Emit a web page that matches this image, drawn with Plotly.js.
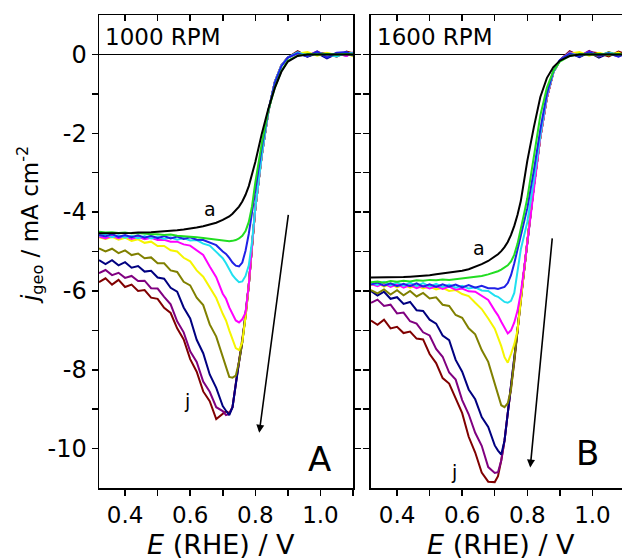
<!DOCTYPE html>
<html>
<head>
<meta charset="utf-8">
<script src="https://cdn.plot.ly/plotly-3.0.1.min.js"></script>
<style>
html, body { margin:0; padding:0; overflow:hidden; background:#fff; }
#chart { width:632px; height:560px; }
</style>
</head>
<body>
<div id="chart"></div>
<script>
// Potential grid (V vs RHE), shared by all curves
const E_grid = [0.32,0.34,0.36,0.38,0.40,0.42,0.44,0.46,0.48,0.50,0.52,0.54,0.56,0.58,0.60,0.62,0.64,0.66,0.68,0.70,
  0.71,0.72,0.73,0.74,0.75,0.76,0.77,0.78,0.79,0.80,
  0.82,0.84,0.86,0.88,0.90,
  0.93,0.96,0.99,1.02,1.05,1.08,1.10];

const curveLabels = ['a','b','c','d','e','f','g','h','i','j'];
const curveColors = ['#000000','#22dd22','#2020e6','#20e0f0','#ff00ff','#f5f500','#808000','#000080','#800080','#800000'];

// Panel A : 1000 RPM  (j_geo / mA cm-2)
const jA_a = [-4.54,-4.54,-4.54,-4.53,-4.53,-4.53,-4.52,-4.52,-4.51,-4.50,-4.49,-4.48,-4.46,-4.44,-4.42,-4.39,-4.36,-4.32,-4.27,-4.20,
  -4.16,-4.11,-4.04,-3.96,-3.86,-3.73,-3.56,-3.34,-3.06,-2.73, -2.01,-1.38,-0.85,-0.44,-0.18, -0.04,0,0,0,0,0,0];
const jA_b = [-4.50,-4.52,-4.51,-4.53,-4.52,-4.54,-4.53,-4.55,-4.56,-4.56,-4.58,-4.57,-4.60,-4.61,-4.62,-4.64,-4.66,-4.68,-4.71,-4.73,
  -4.74,-4.74,-4.73,-4.71,-4.67,-4.60,-4.48,-4.25,-3.85,-3.25, -2.25,-1.42,-0.84,-0.42,-0.16, -0.03,0.01,0.00,0.01,0.00,0.01,0.00];
const jA_c = [-4.58,-4.62,-4.56,-4.63,-4.58,-4.64,-4.59,-4.65,-4.60,-4.66,-4.61,-4.67,-4.62,-4.68,-4.64,-4.70,-4.71,-4.78,-4.84,-5.00,
  -5.06,-5.16,-5.28,-5.36,-5.38,-5.28,-4.98,-4.55,-3.98,-3.45, -2.35,-1.42,-0.72,-0.30,-0.08, 0.03,-0.05,0.07,-0.08,0.04,0.06,-0.03];
const jA_d = [-4.60,-4.57,-4.64,-4.59,-4.65,-4.60,-4.66,-4.61,-4.67,-4.62,-4.68,-4.64,-4.70,-4.66,-4.72,-4.71,-4.80,-4.85,-5.01,-5.17,
  -5.30,-5.45,-5.60,-5.70,-5.78,-5.76,-5.62,-5.35,-4.75,-3.90, -2.55,-1.45,-0.70,-0.28,-0.08, 0.05,-0.03,0.04,0.00,-0.05,0.04,0.02];
const jA_e = [-4.62,-4.67,-4.60,-4.66,-4.61,-4.68,-4.63,-4.69,-4.65,-4.71,-4.70,-4.75,-4.75,-4.82,-4.85,-4.96,-5.09,-5.38,-5.65,-6.07,
  -6.20,-6.42,-6.60,-6.75,-6.80,-6.72,-6.55,-5.85,-4.85,-3.90, -2.55,-1.45,-0.70,-0.28,-0.08, 0.03,-0.02,0.05,-0.03,0.02,-0.04,0.03];
const jA_f = [-4.64,-4.68,-4.63,-4.70,-4.65,-4.73,-4.69,-4.78,-4.75,-4.86,-4.86,-4.97,-5.00,-5.16,-5.25,-5.48,-5.64,-5.91,-6.18,-6.58,
  -6.75,-7.00,-7.25,-7.45,-7.50,-7.30,-6.65,-5.85,-4.85,-3.90, -2.55,-1.45,-0.70,-0.28,-0.08, 0.02,0.06,-0.03,0.04,-0.02,0.03,-0.05];
const jA_g = [-4.92,-5.00,-4.93,-5.04,-4.97,-5.09,-5.05,-5.17,-5.15,-5.30,-5.30,-5.48,-5.52,-5.77,-5.86,-6.17,-6.36,-6.85,-7.16,-7.70,
  -7.95,-8.18,-8.20,-8.15,-7.80,-7.30,-6.65,-5.85,-4.85,-3.90, -2.55,-1.45,-0.70,-0.28,-0.08, 0.04,-0.03,0.05,-0.06,0.03,0.02,-0.02];
const jA_h = [-5.22,-5.32,-5.22,-5.35,-5.27,-5.41,-5.37,-5.51,-5.49,-5.66,-5.69,-5.92,-6.02,-6.42,-6.70,-7.24,-7.58,-8.12,-8.46,-8.92,
  -9.04,-9.15,-8.95,-8.35,-7.80,-7.30,-6.65,-5.85,-4.85,-3.90, -2.55,-1.45,-0.70,-0.28,-0.08, 0.04,-0.06,0.03,-0.10,0.02,-0.03,0.04];
const jA_i = [-5.55,-5.47,-5.60,-5.54,-5.67,-5.62,-5.75,-5.74,-5.93,-5.94,-6.15,-6.34,-6.77,-7.05,-7.53,-7.80,-8.30,-8.56,-8.95,-9.05,
  -9.15,-9.12,-8.95,-8.35,-7.80,-7.30,-6.65,-5.85,-4.85,-3.90, -2.55,-1.45,-0.70,-0.28,-0.08, 0.06,-0.04,0.08,-0.05,0.03,-0.02,0.05];
const jA_j = [-5.78,-5.68,-5.84,-5.72,-5.90,-5.84,-6.00,-5.98,-6.17,-6.20,-6.43,-6.56,-6.95,-7.23,-7.73,-8.05,-8.55,-8.80,-9.25,-9.10,
  -9.05,-9.10,-8.95,-8.35,-7.80,-7.30,-6.65,-5.85,-4.85,-3.90, -2.55,-1.45,-0.70,-0.28,-0.08, 0.08,-0.05,0.04,0.02,-0.06,0.07,0.03];

// Panel B : 1600 RPM
const jB_a = [-5.66,-5.66,-5.66,-5.65,-5.65,-5.65,-5.64,-5.63,-5.62,-5.60,-5.58,-5.56,-5.54,-5.52,-5.49,-5.45,-5.39,-5.32,-5.24,-5.14,
  -5.07,-4.99,-4.89,-4.76,-4.58,-4.35,-4.07,-3.72,-3.20,-2.70, -1.85,-1.08,-0.60,-0.32,-0.16, -0.04,0,0,0,0,0,0];
const jB_b = [-5.78,-5.76,-5.79,-5.75,-5.77,-5.74,-5.76,-5.73,-5.74,-5.72,-5.73,-5.71,-5.72,-5.70,-5.69,-5.67,-5.65,-5.62,-5.58,-5.53,
  -5.50,-5.46,-5.41,-5.35,-5.25,-5.08,-4.80,-4.45,-4.05,-3.65, -2.55,-1.55,-0.85,-0.42,-0.18, -0.04,0.01,0.00,0.01,0.00,0.01,0.00];
const jB_c = [-5.84,-5.79,-5.87,-5.81,-5.88,-5.82,-5.88,-5.81,-5.89,-5.83,-5.90,-5.83,-5.89,-5.84,-5.91,-5.85,-5.92,-5.87,-5.93,-5.93,
  -5.95,-5.93,-5.90,-5.80,-5.60,-5.30,-4.95,-4.60,-4.25,-3.90, -2.95,-1.90,-1.00,-0.42,-0.14, 0.02,-0.05,0.06,-0.04,0.03,-0.06,0.02];
const jB_d = [-5.80,-5.85,-5.77,-5.86,-5.78,-5.87,-5.79,-5.88,-5.80,-5.89,-5.82,-5.90,-5.84,-5.92,-5.87,-5.94,-5.91,-5.99,-6.00,-6.12,
  -6.15,-6.22,-6.28,-6.30,-6.25,-6.05,-5.50,-4.95,-4.60,-4.25, -3.20,-2.05,-1.05,-0.45,-0.15, 0.03,-0.04,0.05,-0.02,0.04,0.00,-0.03];
const jB_e = [-5.82,-5.88,-5.81,-5.90,-5.83,-5.92,-5.85,-5.93,-5.87,-5.94,-5.88,-5.95,-5.89,-5.97,-5.94,-6.01,-6.02,-6.12,-6.23,-6.50,
  -6.62,-6.78,-6.95,-7.08,-7.00,-6.80,-6.50,-6.05,-5.45,-4.75, -3.35,-2.10,-1.10,-0.45,-0.15, 0.04,-0.03,0.06,-0.04,0.02,-0.05,0.03];
const jB_f = [-5.85,-5.80,-5.89,-5.82,-5.91,-5.84,-5.92,-5.86,-5.94,-5.89,-5.96,-5.92,-6.00,-5.98,-6.08,-6.13,-6.30,-6.46,-6.70,-6.96,
  -7.18,-7.40,-7.68,-7.82,-7.60,-7.35,-7.00,-6.20,-5.45,-4.75, -3.35,-2.10,-1.10,-0.45,-0.15, 0.02,0.06,-0.03,0.04,-0.02,0.05,-0.04];
const jB_g = [-5.98,-6.06,-5.96,-6.09,-5.98,-6.11,-6.00,-6.14,-6.05,-6.19,-6.16,-6.35,-6.38,-6.61,-6.68,-6.95,-7.10,-7.50,-7.80,-8.35,
  -8.60,-8.90,-8.95,-8.85,-8.50,-7.80,-7.00,-6.20,-5.45,-4.75, -3.35,-2.10,-1.10,-0.45,-0.15, 0.05,-0.04,0.03,-0.05,0.06,-0.02,0.04];
const jB_h = [-6.00,-6.12,-6.02,-6.20,-6.16,-6.33,-6.28,-6.49,-6.51,-6.73,-6.83,-7.13,-7.25,-7.75,-8.05,-8.50,-8.75,-9.20,-9.45,-9.92,
  -10.05,-10.15,-9.80,-9.10,-8.50,-7.80,-7.00,-6.20,-5.45,-4.75, -3.35,-2.10,-1.10,-0.45,-0.15, 0.04,-0.07,0.05,-0.08,0.03,-0.04,0.05];
const jB_i = [-6.30,-6.22,-6.38,-6.35,-6.57,-6.55,-6.77,-6.83,-7.05,-7.13,-7.47,-7.67,-8.07,-8.25,-8.77,-9.13,-9.60,-9.93,-10.47,-10.62,
  -10.60,-10.30,-9.80,-9.10,-8.50,-7.80,-7.00,-6.20,-5.45,-4.75, -3.35,-2.10,-1.10,-0.45,-0.15, 0.07,-0.05,0.09,-0.04,0.05,-0.03,0.06];
const jB_j = [-6.75,-6.86,-6.73,-6.95,-6.91,-7.07,-7.03,-7.21,-7.23,-7.60,-7.83,-8.21,-8.35,-8.71,-9.10,-9.70,-10.10,-10.61,-10.84,-10.85,
  -10.70,-10.30,-9.80,-9.10,-8.50,-7.80,-7.00,-6.20,-5.45,-4.75, -3.35,-2.10,-1.10,-0.45,-0.15, 0.08,-0.04,0.06,0.03,-0.05,0.07,0.02];

// ticks
const xTickVals = [0.4,0.6,0.8,1.0];
const xTickText = ['0.4','0.6','0.8','1.0'];
const xMinorVals = [0.5,0.7,0.9,1.1];
const xAllVals = [0.4,0.5,0.6,0.7,0.8,0.9,1.0,1.1];
const yTickVals = [-10,-8,-6,-4,-2,0];
const yTickText = ['-10','-8','-6','-4','-2','0'];
const yMinorVals = [-9,-7,-5,-3,-1];

const panelTitles = ['1000 RPM','1600 RPM'];
const panelLetters = ['A','B'];
const xTitle = '<i>E</i> (RHE) / V';
const yTitle = '<i>j</i><sub>geo</sub> / mA cm<sup>-2</sup>';
// curve-label positions [x, y] (a, j) and arrow [head x, head y, tail x, tail y]
const labelPosA = {a:[0.661,-3.92], j:[0.59,-8.8]};
const labelPosB = {a:[0.652,-4.9], j:[0.575,-10.6]};
const arrowA = [0.812,-9.6,0.902,-4.03];
const arrowB = [0.809,-10.48,0.877,-4.63];

const setsA = [jA_a,jA_b,jA_c,jA_d,jA_e,jA_f,jA_g,jA_h,jA_i,jA_j];
const setsB = [jB_a,jB_b,jB_c,jB_d,jB_e,jB_f,jB_g,jB_h,jB_i,jB_j];

const traces = [];
const order = [9,8,7,6,5,4,3,2,1,0];
[[setsA,'x','y'],[setsB,'x2','y2']].forEach(([sets,xa,ya]) => {
  order.forEach(k => {
    traces.push({x:E_grid, y:sets[k], xaxis:xa, yaxis:ya, type:'scatter', mode:'lines',
      name:curveLabels[k], line:{color:curveColors[k], width:2}, hoverinfo:'skip'});
  });
});
// empty traces to anchor the top (inside) tick axes
traces.push({x:[], y:[], xaxis:'x3', yaxis:'y', type:'scatter', mode:'lines', showlegend:false});
traces.push({x:[], y:[], xaxis:'x4', yaxis:'y2', type:'scatter', mode:'lines', showlegend:false});

const FONT = 'DejaVu Sans';
function xAxis(domain, anchor) {
  return {domain:domain, anchor:anchor, range:[0.32,1.1], showline:true, linecolor:'#000', linewidth:1.5,
    mirror:true, ticks:'outside', ticklen:6, tickwidth:1.5, tickcolor:'#000',
    tickmode:'array', tickvals:xTickVals, ticktext:xTickText, tickfont:{family:FONT, size:23, color:'#000'},
    minor:{tickmode:'array', tickvals:xMinorVals, ticks:'outside', ticklen:6, tickwidth:1.5, tickcolor:'#000', showgrid:false},
    showgrid:false, zeroline:false};
}
function topAxis(over, anchor) {
  return {overlaying:over, anchor:anchor, side:'top', range:[0.32,1.1], showline:false,
    ticks:'inside', ticklen:6, tickwidth:1.5, tickcolor:'#000', tickmode:'array', tickvals:xAllVals,
    showticklabels:false, showgrid:false, zeroline:false};
}
function yAxis(anchor, labels) {
  return {domain:[0,1], anchor:anchor, range:[-11,1], showline:true, linecolor:'#000', linewidth:1.5,
    mirror:'ticks', ticks:'outside', ticklen:6, tickwidth:1.5, tickcolor:'#000',
    tickmode:'array', tickvals:yTickVals, ticktext:yTickText, showticklabels:labels,
    tickfont:{family:FONT, size:24, color:'#000'},
    minor:{tickmode:'array', tickvals:yMinorVals, ticks:'outside', ticklen:6, tickwidth:1.5, tickcolor:'#000', showgrid:false},
    showgrid:false, zeroline:true, zerolinecolor:'#000', zerolinewidth:1.2};
}

const ann = [];
// y-axis title (rotated)
ann.push({xref:'paper', yref:'paper', x:-0.133, y:0.556, xanchor:'center', yanchor:'middle', textangle:-90,
  text:yTitle, showarrow:false, font:{family:FONT, size:23, color:'#000'}});
[['x','y',0],['x2','y2',1]].forEach(([xa,ya,p]) => {
  ann.push({xref:xa+' domain', yref:'paper', x:p===0?0.482:0.51, y:-0.119, xanchor:'center', yanchor:'middle',
    text:xTitle, showarrow:false, font:{family:FONT, size:27, color:'#000'}});
  ann.push({xref:xa+' domain', yref:ya+' domain', x:0.015, y:0.953, xanchor:'left', yanchor:'middle',
    text:panelTitles[p], showarrow:false, font:{family:FONT, size:23, color:'#000'}});
  ann.push({xref:xa+' domain', yref:ya+' domain', x:p===0?0.87:0.854, y:p===0?0.061:0.074, xanchor:'center', yanchor:'middle',
    text:panelLetters[p], showarrow:false, font:{family:FONT, size:34, color:'#000'}});
  const lp = p===0 ? labelPosA : labelPosB;
  ['a','j'].forEach(k => ann.push({xref:xa, yref:ya, x:lp[k][0], y:lp[k][1], text:k, showarrow:false,
    font:{family:FONT, size:19, color:'#000'}}));
  const ar = p===0 ? arrowA : arrowB;
  ann.push({xref:xa, yref:ya, axref:xa, ayref:ya, x:ar[0], y:ar[1], ax:ar[2], ay:ar[3], text:'',
    showarrow:true, arrowhead:2, arrowsize:1, arrowwidth:1.6, arrowcolor:'#000'});
});

const layout = {
  width:632, height:560, margin:{l:99, r:7, t:15, b:72},
  paper_bgcolor:'#fff', plot_bgcolor:'#fff', showlegend:false,
  font:{family:FONT, color:'#000'},
  xaxis: xAxis([0,0.4829],'y'),
  xaxis2: xAxis([0.5171,1],'y2'),
  xaxis3: topAxis('x','y'),
  xaxis4: topAxis('x2','y2'),
  yaxis: yAxis('x', true),
  yaxis2: yAxis('x2', false),
  annotations: ann
};

Plotly.newPlot('chart', traces, layout, {staticPlot:true, displayModeBar:false});
</script>
</body>
</html>
